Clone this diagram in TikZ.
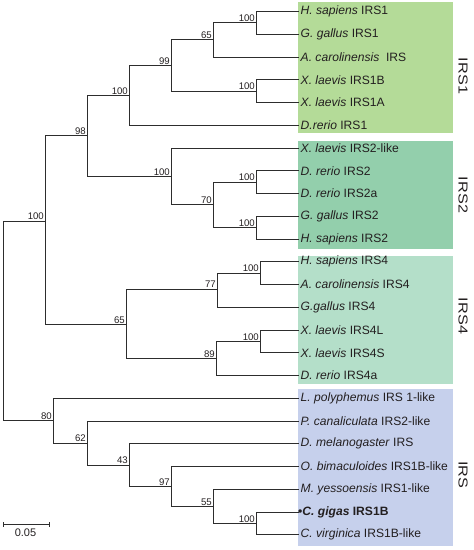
\documentclass[tikz,border=0pt]{standalone}
\usepackage{graphicx}
\usepackage{fontspec}
\setmainfont{Liberation Sans}
\definecolor{irsone}{RGB}{180,219,152}
\definecolor{irstwo}{RGB}{147,207,172}
\definecolor{irsfour}{RGB}{180,223,201}
\definecolor{irsinv}{RGB}{198,208,236}
\definecolor{treegray}{RGB}{45,45,45}
\definecolor{txtgray}{RGB}{35,31,32}
\newcommand{\grpname}[1]{\scalebox{1.25}[1]{#1}}
\begin{document}
\begin{tikzpicture}[x=1pt,y=-1pt,
  branch/.style={draw=treegray,line width=1pt},
  leaf/.style={anchor=west,inner sep=1.5pt,text=txtgray,font=\fontsize{12.1}{13}\selectfont},
  boot/.style={anchor=south east,inner sep=1pt,text=txtgray,font=\fontsize{9.6}{10}\selectfont},
  grp/.style={rotate=-90,inner sep=0pt,text=txtgray,font=\fontsize{13}{14}\selectfont}]
\useasboundingbox (0,0) rectangle (474,550);

% clade boxes
\path[fill=irsone] (298,2) rectangle (453,133);
\path[fill=irstwo] (298,141) rectangle (453,249);
\path[fill=irsfour] (298,256) rectangle (453,384);
\path[fill=irsinv] (298,389) rectangle (453,546);

% leaves
\coordinate (l1) at (299,11.5);
\coordinate (l2) at (299,34.25);
\coordinate (l3) at (299,57);
\coordinate (l4) at (299,79.75);
\coordinate (l5) at (299,102.5);
\coordinate (l6) at (299,125.25);
\coordinate (l7) at (299,148);
\coordinate (l8) at (299,170.75);
\coordinate (l9) at (299,193.5);
\coordinate (l10) at (299,216.25);
\coordinate (l11) at (299,239);
\coordinate (l12) at (299,261.75);
\coordinate (l13) at (299,284.5);
\coordinate (l14) at (299,307.25);
\coordinate (l15) at (299,330);
\coordinate (l16) at (299,352.75);
\coordinate (l17) at (299,375.5);
\coordinate (l18) at (299,398.25);
\coordinate (l19) at (299,421);
\coordinate (l20) at (299,443.75);
\coordinate (l21) at (299,466.5);
\coordinate (l22) at (299,489.25);
\coordinate (l23) at (299,512);
\coordinate (l24) at (299,534.75);

% internal nodes
\coordinate (root) at (3,320);
\coordinate (nA) at (45,221);
\coordinate (nB) at (87,135.9);
\coordinate (nC) at (129,95.4);
\coordinate (nD) at (171,65.5);
\coordinate (nE) at (213,39.9);
\coordinate (nG) at (256,22.9);
\coordinate (nF) at (256,91.1);
\coordinate (nH) at (171,176.4);
\coordinate (nI) at (213,204.9);
\coordinate (nJ) at (256,182.1);
\coordinate (nK) at (256,227.6);
\coordinate (nL) at (126,324.3);
\coordinate (nM) at (217,289);
\coordinate (nO) at (260,273.1);
\coordinate (nN) at (216,358.4);
\coordinate (nP) at (260,341.4);
\coordinate (nQ) at (53,420.6);
\coordinate (nR) at (87,443);
\coordinate (nS) at (129,465);
\coordinate (nT) at (171,486.4);
\coordinate (nU) at (213,506.3);
\coordinate (nV) at (256,523.4);

% branches
\path[branch] (root) |- (nA);
\path[branch] (root) |- (nQ);
\path[branch] (nA) |- (nB);
\path[branch] (nA) |- (nL);
\path[branch] (nB) |- (nC);
\path[branch] (nB) |- (nH);
\path[branch] (nC) |- (nD);
\path[branch] (nC) |- (l6);
\path[branch] (nD) |- (nE);
\path[branch] (nD) |- (nF);
\path[branch] (nE) |- (nG);
\path[branch] (nE) |- (l3);
\path[branch] (nG) |- (l1);
\path[branch] (nG) |- (l2);
\path[branch] (nF) |- (l4);
\path[branch] (nF) |- (l5);
\path[branch] (nH) |- (l7);
\path[branch] (nH) |- (nI);
\path[branch] (nI) |- (nJ);
\path[branch] (nI) |- (nK);
\path[branch] (nJ) |- (l8);
\path[branch] (nJ) |- (l9);
\path[branch] (nK) |- (l10);
\path[branch] (nK) |- (l11);
\path[branch] (nL) |- (nM);
\path[branch] (nL) |- (nN);
\path[branch] (nM) |- (nO);
\path[branch] (nM) |- (l14);
\path[branch] (nO) |- (l12);
\path[branch] (nO) |- (l13);
\path[branch] (nN) |- (nP);
\path[branch] (nN) |- (l17);
\path[branch] (nP) |- (l15);
\path[branch] (nP) |- (l16);
\path[branch] (nQ) |- (l18);
\path[branch] (nQ) |- (nR);
\path[branch] (nR) |- (l19);
\path[branch] (nR) |- (nS);
\path[branch] (nS) |- (l20);
\path[branch] (nS) |- (nT);
\path[branch] (nT) |- (l21);
\path[branch] (nT) |- (nU);
\path[branch] (nU) |- (l22);
\path[branch] (nU) |- (nV);
\path[branch] (nV) |- (l23);
\path[branch] (nV) |- (l24);

% bootstrap values
\node[boot] (bA) at (nA) {100};
\node[boot] (bB) at (nB) {98};
\node[boot] (bC) at (nC) {100};
\node[boot] (bD) at (nD) {99};
\node[boot] (bE) at (nE) {65};
\node[boot] (bG) at (nG) {100};
\node[boot] (bF) at (nF) {100};
\node[boot] (bH) at (nH) {100};
\node[boot] (bI) at (nI) {70};
\node[boot] (bJ) at (nJ) {100};
\node[boot] (bK) at (nK) {100};
\node[boot] (bL) at (nL) {65};
\node[boot] (bM) at (nM) {77};
\node[boot] (bO) at (nO) {100};
\node[boot] (bN) at (nN) {89};
\node[boot] (bP) at (nP) {100};
\node[boot] (bQ) at (nQ) {80};
\node[boot] (bR) at (nR) {62};
\node[boot] (bS) at (nS) {43};
\node[boot] (bT) at (nT) {97};
\node[boot] (bU) at (nU) {55};
\node[boot] (bV) at (nV) {100};

% leaf labels
\node[leaf] (t1) at (l1) {\textit{H. sapiens} IRS1};
\node[leaf] (t2) at (l2) {\textit{G. gallus} IRS1};
\node[leaf] (t3) at (l3) {\textit{A. carolinensis}\ \ IRS};
\node[leaf] (t4) at (l4) {\textit{X. laevis} IRS1B};
\node[leaf] (t5) at (l5) {\textit{X. laevis} IRS1A};
\node[leaf] (t6) at (l6) {\textit{D.rerio} IRS1};
\node[leaf] (t7) at (l7) {\textit{X. laevis} IRS2-like};
\node[leaf] (t8) at (l8) {\textit{D. rerio} IRS2};
\node[leaf] (t9) at (l9) {\textit{D. rerio} IRS2a};
\node[leaf] (t10) at (l10) {\textit{G. gallus} IRS2};
\node[leaf] (t11) at (l11) {\textit{H. sapiens} IRS2};
\node[leaf] (t12) at (l12) {\textit{H. sapiens} IRS4};
\node[leaf] (t13) at (l13) {\textit{A. carolinensis} IRS4};
\node[leaf] (t14) at (l14) {\textit{G.gallus} IRS4};
\node[leaf] (t15) at (l15) {\textit{X. laevis} IRS4L};
\node[leaf] (t16) at (l16) {\textit{X. laevis} IRS4S};
\node[leaf] (t17) at (l17) {\textit{D. rerio} IRS4a};
\node[leaf] (t18) at (l18) {\textit{L. polyphemus} IRS 1-like};
\node[leaf] (t19) at (l19) {\textit{P. canaliculata} IRS2-like};
\node[leaf] (t20) at (l20) {\textit{D. melanogaster} IRS};
\node[leaf] (t21) at (l21) {\textit{O. bimaculoides} IRS1B-like};
\node[leaf] (t22) at (l22) {\textit{M. yessoensis} IRS1-like};
\node[leaf,xshift=-2.5pt] (t23) at (l23) {\textbf{•\textit{C. gigas} IRS1B}};
\node[leaf] (t24) at (l24) {\textit{C. virginica} IRS1B-like};

% clade names
\node[grp] (g1) at (463,76) {\grpname{IRS1}};
\node[grp] (g2) at (463,195) {\grpname{IRS2}};
\node[grp] (g4) at (463,316) {\grpname{IRS4}};
\node[grp] (g0) at (463,475) {\grpname{IRS}};

% scale bar
\coordinate (sb1) at (3,524);
\coordinate (sb2) at (49,524);
\path[branch] (sb1) -- (sb2);
\path[branch] ([yshift=-2.5pt]sb1) -- ([yshift=2.5pt]sb1);
\path[branch] ([yshift=-2.5pt]sb2) -- ([yshift=2.5pt]sb2);
\node[text=txtgray,font=\fontsize{11}{12}\selectfont] (sbt) at (25.5,533) {0.05};
\end{tikzpicture}
\end{document}
